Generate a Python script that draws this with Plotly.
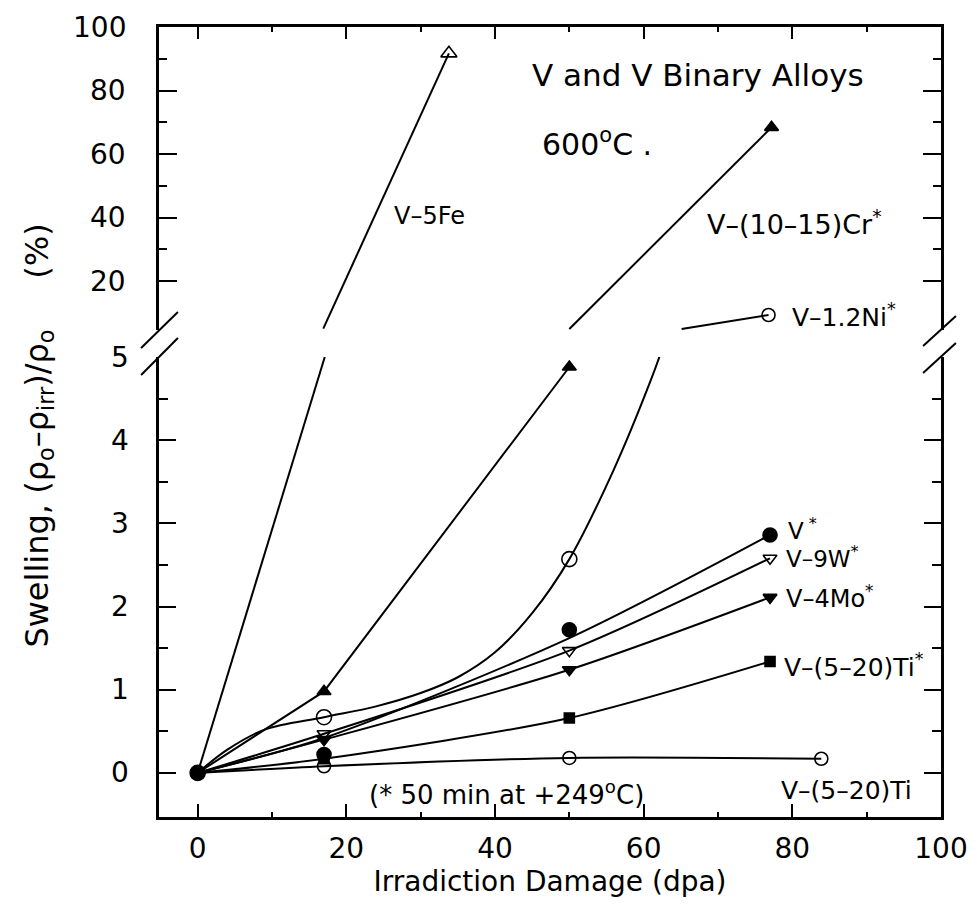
import plotly.graph_objects as go

# ---------------- data ----------------
dpa_ticks = [0, 20, 40, 60, 80, 100]
low_ticks = [0, 1, 2, 3, 4, 5]
up_ticks = [20, 40, 60, 80, 100]

# V-5Fe
fe_pts_x = [0, 33.8]
fe_pts_y = [0, 91.7]
fe_lo_x = [0, 17.1]
fe_lo_y = [0, 5.0]
fe_up_x = [16.9, 33.8]
fe_up_y = [5.0, 91.7]

# V-(10-15)Cr*
cr_x = [0, 17, 50, 77.2]
cr_y = [0, 0.98, 4.88, 68.4]
cr_lo_x = [0, 17, 50]
cr_lo_y = [0, 0.98, 4.88]
cr_up_x = [50, 77.2]
cr_up_y = [4.88, 68.4]

# V-1.2Ni*
ni_x = [0, 17, 50, 76.8]
ni_y = [0, 0.67, 2.57, 9.3]
ni_lo_x = [0, 4, 9, 17, 24, 30, 35, 40, 45, 50, 56, 61, 62.5]
ni_lo_y = [0, 0.28, 0.52, 0.67, 0.8, 0.96, 1.15, 1.45, 1.92, 2.57, 3.65,
           4.73, 5.1]
ni_up_x = [65.1, 76.8]
ni_up_y = [4.9, 9.3]

# V*
v_x = [0, 17, 50, 77]
v_y = [0, 0.22, 1.72, 2.86]
v_line_y = [0, 0.42, 1.62, 2.86]

# V-9W*
w_x = [0, 17, 50, 77]
w_y = [0, 0.47, 1.47, 2.58]

# V-4Mo*
mo_x = [0, 17, 50, 77]
mo_y = [0, 0.40, 1.24, 2.11]

# V-(5-20)Ti*
tis_x = [0, 17, 50, 77]
tis_y = [0, 0.17, 0.66, 1.34]

# V-(5-20)Ti (annealed)
ti_x = [0, 17, 50, 83.9]
ti_y = [0, 0.08, 0.18, 0.17]

# ---------------- geometry helpers ----------------
W, H = 980, 911
L, R, T, B = 159, 945, 27, 817


def px(x):
    return (x - L) / (R - L)


def py(y):
    return (B - y) / (B - T)


FONT = "DejaVu Sans"
BLACK = "black"
LW = 2.0

fig = go.Figure()


def line(x, y, ax, shape="linear", smoothing=0.8):
    fig.add_trace(go.Scatter(
        x=x, y=y, mode="lines", xaxis="x" if ax == 1 else "x2",
        yaxis="y" if ax == 1 else "y2",
        line=dict(color=BLACK, width=LW, shape=shape, smoothing=smoothing),
        showlegend=False, hoverinfo="skip"))


def marks(x, y, ax, symbol, size, lw=1.6):
    fig.add_trace(go.Scatter(
        x=x, y=y, mode="markers", xaxis="x" if ax == 1 else "x2",
        yaxis="y" if ax == 1 else "y2",
        marker=dict(symbol=symbol, size=size, color=BLACK,
                    line=dict(color=BLACK, width=lw)),
        showlegend=False, hoverinfo="skip", cliponaxis=False))


# lower panel curves
line(fe_lo_x, fe_lo_y, 1)
line(cr_lo_x, cr_lo_y, 1)
line(ni_lo_x, ni_lo_y, 1, "spline", 1.0)
line(v_x, v_line_y, 1, "spline")
line(w_x, w_y, 1, "spline")
line(mo_x, mo_y, 1, "spline")
line(tis_x, tis_y, 1, "spline")
line(ti_x, ti_y, 1, "spline")
# upper panel curves
line(fe_up_x, fe_up_y, 2)
line(cr_up_x, cr_up_y, 2)
line(ni_up_x, ni_up_y, 2)

# markers in lower panel
marks(ti_x, ti_y, 1, "circle-open", 13)
marks(tis_x, tis_y, 1, "square", 10)
marks(mo_x, mo_y, 1, "triangle-down", 12)
marks(w_x, w_y, 1, "triangle-down-open", 12)
marks(v_x, v_y, 1, "circle", 14)
marks(ni_x[:3], ni_y[:3], 1, "circle-open", 15)
marks(cr_x[:3], cr_y[:3], 1, "triangle-up", 12)
# markers in upper panel
marks(fe_pts_x[1:], fe_pts_y[1:], 2, "triangle-up-open", 14)
marks(cr_x[3:], cr_y[3:], 2, "triangle-up", 12)
marks(ni_x[3:], ni_y[3:], 2, "circle-open", 13)

up_bottom_px = 330
up_lo = 100 - (up_bottom_px - T) / 3.175

NB = "\u00a0"
TICKSIZE = 28
axis_common = dict(showline=True, linecolor=BLACK, linewidth=2.5,
                   showgrid=False, zeroline=False, ticks="inside",
                   tickcolor=BLACK, tickwidth=2,
                   tickfont=dict(family=FONT, size=TICKSIZE, color=BLACK))

fig.update_layout(
    width=W, height=H,
    margin=dict(l=L, r=W - R, t=T, b=H - B),
    paper_bgcolor="white", plot_bgcolor="white",
    xaxis=dict(axis_common, domain=[0, 1], range=[-5.2, 100], anchor="y",
               tickvals=dpa_ticks, ticktext=[str(v) for v in dpa_ticks],
               ticklen=13, ticklabelstandoff=5,
               minor=dict(tickvals=[10, 30, 50, 70, 90], ticklen=5,
                          tickcolor=BLACK, tickwidth=2, ticks="inside"),
               title=dict(text="Irradiction Damage (dpa)",
                          font=dict(family=FONT, size=28, color=BLACK),
                          standoff=0)),
    xaxis2=dict(axis_common, matches="x", anchor="y2", side="top",
                range=[-5.2, 100], showticklabels=False,
                tickvals=dpa_ticks, ticklen=12,
                minor=dict(tickvals=[10, 30, 50, 70, 90], ticklen=5,
                           tickcolor=BLACK, tickwidth=2, ticks="inside")),
    yaxis=dict(axis_common, domain=[0, py(357)], range=[-0.53, 5.0],
               anchor="x", mirror="allticks", showticklabels=False,
               tickvals=low_ticks, ticklen=17,
               minor=dict(tickvals=[0.5, 1.5, 2.5, 3.5, 4.5], ticklen=9,
                          tickcolor=BLACK, tickwidth=2, ticks="inside")),
    yaxis2=dict(axis_common, domain=[py(up_bottom_px), 1],
                range=[up_lo, 100], anchor="x2", mirror="allticks",
                showticklabels=False, tickvals=up_ticks, ticklen=18,
                minor=dict(tickvals=[30, 50, 70, 90], ticklen=8,
                           tickcolor=BLACK, tickwidth=2, ticks="inside")),
)

# y tick labels, placed on each axis' own scale
for v in low_ticks:
    fig.add_annotation(text=str(v), x=px(131), y=v, xref="paper", yref="y",
                       xanchor="right", yanchor="middle", showarrow=False,
                       font=dict(family=FONT, size=TICKSIZE, color=BLACK))
for v in up_ticks:
    fig.add_annotation(text=str(v), x=px(128), y=v, xref="paper", yref="y2",
                       xanchor="right", yanchor="middle", showarrow=False,
                       font=dict(family=FONT, size=TICKSIZE, color=BLACK))

# axis-break marks
for (x0, y0, x1, y1) in [(141, 348, 178, 312), (141, 375, 178, 338),
                         (927, 346, 960, 316), (927, 373, 960, 343)]:
    fig.add_shape(type="line", xref="paper", yref="paper",
                  x0=px(x0), y0=py(y0), x1=px(x1), y1=py(y1),
                  line=dict(color=BLACK, width=2))


def note(text, x, y, size, xanchor="left", angle=0):
    fig.add_annotation(text=text, x=px(x), y=py(y), xref="paper",
                       yref="paper", xanchor=xanchor, yanchor="middle",
                       showarrow=False, textangle=angle,
                       font=dict(family=FONT, size=size, color=BLACK))


note("V and V Binary Alloys", 701, 75, 31, "center")
note("600<sup>o</sup>C .", 542, 142, 30)
note("V–5Fe", 393, 216, 24)
note("V–(10–15)Cr<sup>*</sup>", 708, 222, 27)
note("V–1.2Ni<sup>*</sup>", 793, 316, 25)
note("V<sup> *</sup>", 789, 529, 23)
note("V–9W<sup>*</sup>", 787, 557, 23)
note("V–4Mo<sup>*</sup>", 787, 597, 24)
note("V–(5–20)Ti<sup>*</sup>", 785, 665, 25)
note("V–(5–20)Ti", 782, 790, 25)
note("(* 50 min at +249<sup>o</sup>C)", 368, 793, 26)
note("Swelling, (ρ<sub>o</sub>–ρ<sub>irr</sub>)/ρ<sub>o</sub>" + NB * 5 + "(%)",
     38, 436, 32, "center", -90)

fig.write_html("out.html")
